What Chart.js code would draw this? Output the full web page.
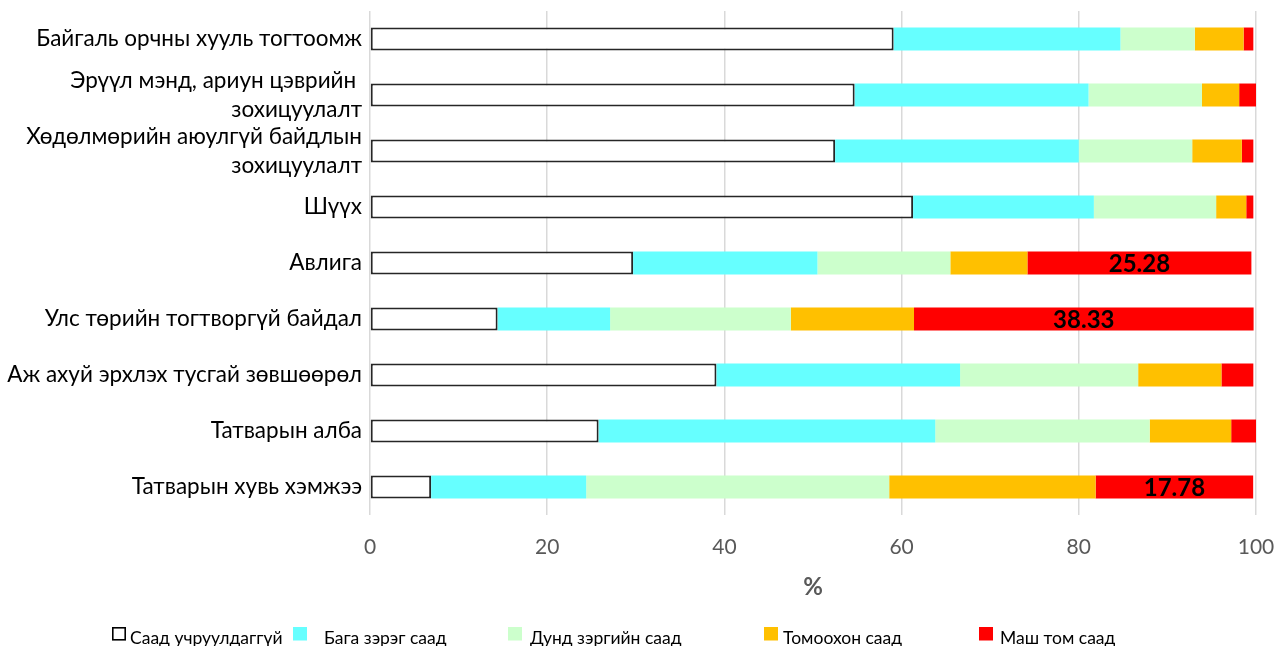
<!DOCTYPE html>
<html>
<head>
<meta charset="utf-8">
<script src="https://cdn.jsdelivr.net/npm/chart.js@4"></script>
<style>
  html, body { margin: 0; padding: 0; background: #ffffff; }
  #wrap { position: relative; width: 1277px; height: 646px; overflow: hidden; }
  canvas { display: block; }
</style>
</head>
<body>
<div id="wrap"><canvas id="chart" width="1277" height="646"></canvas></div>
<script>
// Categories (multi-line labels are arrays of lines)
const categories = [
  ['Байгаль орчны хууль тогтоомж'],
  ['Эрүүл мэнд, ариун цэврийн ', 'зохицуулалт'],
  ['Хөдөлмөрийн аюулгүй байдлын', 'зохицуулалт'],
  ['Шүүх'],
  ['Авлига'],
  ['Улс төрийн тогтворгүй байдал'],
  ['Аж ахуй эрхлэх тусгай зөвшөөрөл'],
  ['Татварын алба'],
  ['Татварын хувь хэмжээ']
];

// Series names (legend order)
const seriesNames = ['Саад учруулдаггүй', 'Бага зэрэг саад', 'Дунд зэргийн саад', 'Томоохон саад', 'Маш том саад'];

// Shares of respondents, %
const noBarrier       = [59.1, 54.7, 52.5, 61.3, 29.7, 14.4, 39.1, 25.8, 6.9];
const minorBarrier    = [25.6, 26.4, 27.5, 20.4, 20.8, 12.7, 27.5, 38.0, 17.5];
const moderateBarrier = [8.4, 12.8, 12.8, 13.8, 15.0, 20.4, 20.1, 24.2, 34.2];
const majorBarrier    = [5.5, 4.2, 5.6, 3.4, 8.7, 13.9, 9.4, 9.2, 23.3];
const severeBarrier   = [1.1, 1.9, 1.3, 0.8, 25.28, 38.33, 3.6, 2.8, 17.78];

// Axis ticks
const xTicks = [0, 20, 40, 60, 80, 100];
const xTitle = '%';

const FONT = 'Lato, "Noto Sans", "DejaVu Sans", sans-serif';
const fills = ['#ffffff', '#66ffff', '#ccffcc', '#ffc000', '#ff0000'];
const seriesData = [noBarrier, minorBarrier, moderateBarrier, majorBarrier, severeBarrier];

const datasets = seriesData.map((d, i) => ({
  label: seriesNames[i],
  data: d,
  backgroundColor: fills[i],
  borderColor: i === 0 ? '#262626' : fills[i],
  borderWidth: i === 0 ? 2 : 0,
  borderSkipped: false,
  categoryPercentage: 1,
  barPercentage: 0.41
}));

// Values written inside the large "very big barrier" segments
const valueLabels = {
  id: 'valueLabels',
  afterDatasetsDraw(chart) {
    const ctx = chart.ctx;
    const meta = chart.getDatasetMeta(4);
    ctx.save();
    ctx.font = 'bold 24px ' + FONT;
    ctx.fillStyle = '#000000';
    ctx.textAlign = 'center';
    ctx.textBaseline = 'middle';
    meta.data.forEach((el, i) => {
      const v = severeBarrier[i];
      if (v < 15) return;
      ctx.fillText(v.toFixed(2), (el.x + el.base) / 2, el.y + 1);
    });
    ctx.restore();
  }
};

// Legend row along the bottom edge
const legendBoxX = [112, 293, 508, 764, 979];
const legendTextX = [130, 324, 530, 783, 1000];
const bottomLegend = {
  id: 'bottomLegend',
  afterDraw(chart) {
    const ctx = chart.ctx;
    ctx.save();
    ctx.font = '17.5px ' + FONT;
    ctx.textAlign = 'left';
    ctx.textBaseline = 'alphabetic';
    seriesNames.forEach((name, i) => {
      const bx = legendBoxX[i];
      if (i === 0) {
        ctx.fillStyle = '#ffffff';
        ctx.fillRect(bx, 627, 14, 13.5);
        ctx.strokeStyle = '#000000';
        ctx.lineWidth = 1.6;
        ctx.strokeRect(bx + 0.8, 627.8, 12.4, 12);
      } else {
        ctx.fillStyle = fills[i];
        ctx.fillRect(bx, 627, 14, 13.5);
      }
      ctx.fillStyle = '#000000';
      ctx.fillText(name, legendTextX[i], 644);
    });
    ctx.restore();
  }
};

new Chart(document.getElementById('chart'), {
  type: 'bar',
  data: { labels: categories, datasets },
  plugins: [valueLabels, bottomLegend],
  options: {
    indexAxis: 'y',
    responsive: false,
    animation: false,
    events: [],
    layout: { padding: { top: 11, right: 21, bottom: 0, left: 0 } },
    plugins: {
      legend: { display: false },
      tooltip: { enabled: false }
    },
    scales: {
      x: {
        stacked: true,
        min: 0,
        max: 100,
        afterFit(scale) {
          scale.height = 131;
          scale.paddingLeft = 0;
          scale.paddingRight = 0;
        },
        afterBuildTicks(scale) { scale.ticks = xTicks.map(v => ({ value: v })); },
        grid: { color: '#d9d9d9', lineWidth: 1.5, drawTicks: false },
        border: { display: false },
        ticks: {
          padding: 20,
          color: '#595959',
          font: { family: FONT, size: 21 }
        },
        title: {
          display: true,
          text: xTitle,
          color: '#595959',
          font: { family: FONT, size: 24, weight: 'bold', lineHeight: 1.2 },
          padding: { top: 0, bottom: 44 }
        }
      },
      y: {
        stacked: true,
        afterFit(scale) {
          scale.width = 370;
          scale.paddingTop = 0;
          scale.paddingBottom = 0;
        },
        grid: { display: false, drawTicks: false },
        border: { display: false },
        ticks: {
          autoSkip: false,
          padding: 8,
          color: '#000000',
          font: { family: FONT, size: 22.5, lineHeight: 1.3 }
        }
      }
    }
  }
});
</script>
</body>
</html>
